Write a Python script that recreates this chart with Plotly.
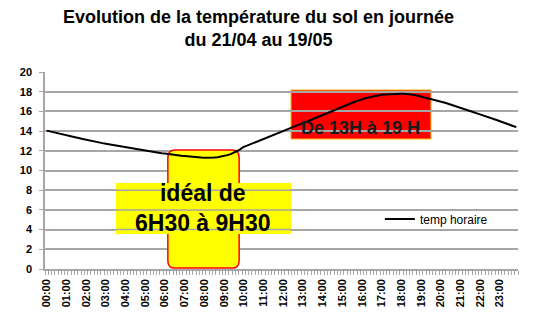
import plotly.graph_objects as go

# 10-minute time slots over one day
times = [f"{h:02d}:{m:02d}" for h in range(24) for m in range(0, 60, 10)]
hour_labels = [t if t.endswith(":00") else "" for t in times]

# mean soil temperature (°C) per 10-minute slot
temp_horaire = [
    14.05, 13.98, 13.90, 13.82, 13.74, 13.64,
    13.56, 13.50, 13.44, 13.36, 13.28, 13.20,
    13.12, 13.06, 12.99, 12.92, 12.86, 12.78,
    12.72, 12.66, 12.60, 12.55, 12.47, 12.41,
    12.35, 12.30, 12.24, 12.18, 12.12, 12.06,
    12.00, 11.94, 11.90, 11.84, 11.80, 11.75,
    11.72, 11.66, 11.62, 11.58, 11.53, 11.49,
    11.46, 11.42, 11.40, 11.36, 11.34, 11.32,
    11.30, 11.29, 11.30, 11.32, 11.35, 11.40,
    11.48, 11.56, 11.66, 11.80, 11.98, 12.18,
    12.40, 12.52, 12.66, 12.80, 12.93, 13.05,
    13.15, 13.30, 13.45, 13.60, 13.74, 13.88,
    14.00, 14.14, 14.27, 14.42, 14.56, 14.68,
    14.80, 14.94, 15.10, 15.24, 15.38, 15.52,
    15.65, 15.80, 15.95, 16.08, 16.22, 16.36,
    16.50, 16.62, 16.76, 16.88, 17.00, 17.12,
    17.25, 17.34, 17.42, 17.50, 17.56, 17.62,
    17.68, 17.72, 17.75, 17.78, 17.80, 17.80,
    17.80, 17.79, 17.76, 17.72, 17.66, 17.58,
    17.50, 17.42, 17.36, 17.28, 17.20, 17.10,
    17.00, 16.90, 16.80, 16.70, 16.60, 16.50,
    16.40, 16.28, 16.15, 16.03, 15.92, 15.80,
    15.70, 15.60, 15.47, 15.36, 15.25, 15.12,
    15.00, 14.90, 14.78, 14.65, 14.52, 14.40,
]

y_ticks = list(range(0, 21, 2))

FONT = "Liberation Sans, Arial, sans-serif"
GRID = "#a6a6a6"

fig = go.Figure()
fig.add_trace(go.Scatter(
    x=times, y=temp_horaire, mode="lines", name="temp horaire",
    line=dict(color="black", width=2),
))


def rounded_rect(x0, y0, x1, y1, rx, ry):
    return (f"M {x0 + rx},{y0} L {x1 - rx},{y0} Q {x1},{y0} {x1},{y0 + ry} "
            f"L {x1},{y1 - ry} Q {x1},{y1} {x1 - rx},{y1} "
            f"L {x0 + rx},{y1} Q {x0},{y1} {x0},{y1 - ry} "
            f"L {x0},{y0 + ry} Q {x0},{y0} {x0 + rx},{y0} Z")


# label box extent (category index / °C)
LBL_X0, LBL_X1, LBL_Y0, LBL_Y1 = 21.1, 74.4, 3.55, 8.73

shapes = [
    # afternoon warm period
    dict(type="rect", xref="x", yref="y", x0=74.4, x1=117.0, y0=13.2, y1=18.17,
         fillcolor="#ff0000", line=dict(color="#ffb000", width=1), layer="below"),
    # ideal morning window
    dict(type="path", xref="x", yref="y",
         path=rounded_rect(36.9, 0.1, 58.6, 12.08, 2.2, 0.75),
         fillcolor="#ffff00", line=dict(color="#ff0000", width=1.5), layer="between"),
    # label background
    dict(type="rect", xref="x", yref="y", x0=LBL_X0, x1=LBL_X1, y0=LBL_Y0, y1=LBL_Y1,
         fillcolor="#ffff00", line=dict(width=0), layer="between"),
]
# gridlines stay visible across the label background
for gy in y_ticks:
    if LBL_Y0 < gy < LBL_Y1:
        shapes.append(dict(type="line", xref="x", yref="y", x0=LBL_X0, x1=LBL_X1,
                           y0=gy, y1=gy, line=dict(color=GRID, width=1.5),
                           layer="between"))

annotations = [
    dict(x=47.7, y=6.15, xref="x", yref="y", text="<b>idéal de<br>6H30 à 9H30</b>",
         showarrow=False, font=dict(family=FONT, size=23, color="black"),
         align="center"),
    dict(x=95.7, y=14.3, xref="x", yref="y", text="<b>De 13H à 19 H</b>",
         showarrow=False, font=dict(family=FONT, size=18, color="#1a1a1a")),
]

fig.update_layout(
    width=534, height=324,
    margin=dict(l=45, r=16, t=72, b=55),
    paper_bgcolor="white", plot_bgcolor="white",
    title=dict(
        text="<b>Evolution de la température du sol en journée<br>du 21/04 au 19/05</b>",
        x=0.484, xanchor="center", y=0.93, yanchor="top",
        font=dict(family=FONT, size=18, color="black"),
    ),
    font=dict(family=FONT, color="black"),
    showlegend=True,
    legend=dict(x=0.708, y=0.254, xanchor="left", yanchor="middle",
                bgcolor="rgba(0,0,0,0)", font=dict(family=FONT, size=12, color="black"),
                itemwidth=30),
    shapes=shapes,
    annotations=annotations,
)

fig.update_xaxes(
    type="category", range=[-0.5, len(times) - 0.5],
    tickmode="array", tickvals=times, ticktext=hour_labels,
    tickson="boundaries", ticks="outside", ticklen=4, tickcolor=GRID, tickwidth=1,
    ticklabelstandoff=4,
    tickangle=-90, tickfont=dict(family=FONT, size=11, color="black", weight="bold"),
    showgrid=False, showline=True, linecolor=GRID, linewidth=1.5, zeroline=False,
)
fig.update_yaxes(
    range=[0, 20], tickmode="array", tickvals=y_ticks,
    ticks="outside", ticklen=4, tickcolor=GRID, ticklabelstandoff=5,
    tickfont=dict(family=FONT, size=11, color="black", weight="bold"),
    showgrid=True, gridcolor=GRID, gridwidth=1.5,
    showline=True, linecolor=GRID, linewidth=1.5, zeroline=False,
)

fig.write_html("out.html")
